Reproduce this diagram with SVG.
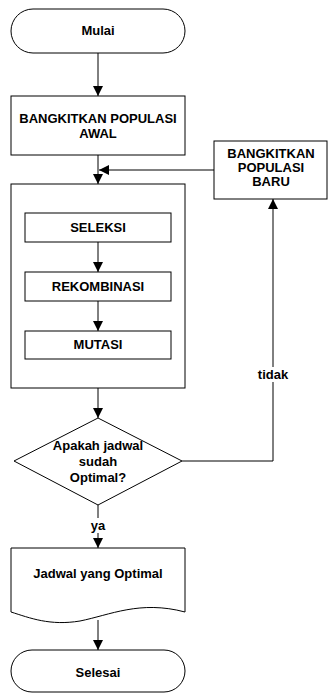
<svg xmlns="http://www.w3.org/2000/svg" width="329" height="693" viewBox="0 0 329 693">
<defs>
<marker id="arr" viewBox="0 0 10 10" refX="10" refY="5" markerWidth="10" markerHeight="10" markerUnits="userSpaceOnUse" orient="auto">
<path d="M0,0 L10,5 L0,10 Z" fill="#000"/>
</marker>
<style>
.s{fill:#fff;stroke:#000;stroke-width:1}
.t{font-family:"Liberation Sans",Arial,sans-serif;font-weight:bold;font-size:13px;text-anchor:middle;fill:#000}
.c{fill:none;stroke:#000;stroke-width:1}
.a{marker-end:url(#arr)}
.bg{fill:#fff}
</style>
</defs>
<rect width="329" height="693" fill="#fff"/>
<g id="mulai">
<rect class="s" x="11" y="9" width="174" height="44" rx="22" ry="22"/>
<text class="t" x="98" y="35">Mulai</text>
</g>
<g id="awal">
<rect class="s" x="11" y="96" width="174" height="59"/>
<text class="t" x="98" y="123">BANGKITKAN POPULASI</text>
<text class="t" x="98" y="138">AWAL</text>
</g>
<g id="baru">
<rect class="s" x="214" y="141" width="113" height="58"/>
<text class="t" x="271" y="158">BANGKITKAN</text>
<text class="t" x="271" y="172">POPULASI</text>
<text class="t" x="271" y="186">BARU</text>
</g>
<g id="proses">
<rect class="s" x="11" y="184" width="174" height="204"/>
</g>
<g id="seleksi">
<rect class="s" x="25" y="213" width="146" height="29"/>
<text class="t" x="98" y="232">SELEKSI</text>
</g>
<g id="rekombinasi">
<rect class="s" x="25" y="272" width="146" height="29"/>
<text class="t" x="98" y="291">REKOMBINASI</text>
</g>
<g id="mutasi">
<rect class="s" x="25" y="331" width="146" height="28"/>
<text class="t" x="98" y="349">MUTASI</text>
</g>
<g id="keputusan">
<polygon class="s" points="98,418 182,461 98,505 14,461"/>
<text class="t" x="98" y="450">Apakah jadwal</text>
<text class="t" x="98" y="466">sudah</text>
<text class="t" x="98" y="482">Optimal?</text>
</g>
<g id="hasil">
<path class="s" d="M11,548 L185,548 L185,612 C140,600 110,615 80,621 C50,626 30,618 11,612 Z"/>
<text class="t" x="98" y="578">Jadwal yang Optimal</text>
</g>
<g id="selesai">
<rect class="s" x="11" y="650" width="174" height="42" rx="21" ry="21"/>
<text class="t" x="98" y="677">Selesai</text>
</g>
<g id="connectors">
<line class="c a" x1="98" y1="53" x2="98" y2="96"/>
<line class="c a" x1="98" y1="155" x2="98" y2="184"/>
<line class="c a" x1="214" y1="170" x2="99" y2="170"/>
<line class="c a" x1="98" y1="242" x2="98" y2="272"/>
<line class="c a" x1="98" y1="301" x2="98" y2="331"/>
<line class="c a" x1="98" y1="388" x2="98" y2="418"/>
<polyline class="c a" points="182,461 273,461 273,199"/>
<rect class="bg" x="258" y="367" width="30" height="15"/>
<text class="t" x="273" y="379">tidak</text>
<line class="c a" x1="98" y1="505" x2="98" y2="548"/>
<rect class="bg" x="88" y="518" width="20" height="15"/>
<text class="t" x="98" y="530">ya</text>
<line class="c a" x1="98" y1="620" x2="98" y2="650"/>
</g>
</svg>
